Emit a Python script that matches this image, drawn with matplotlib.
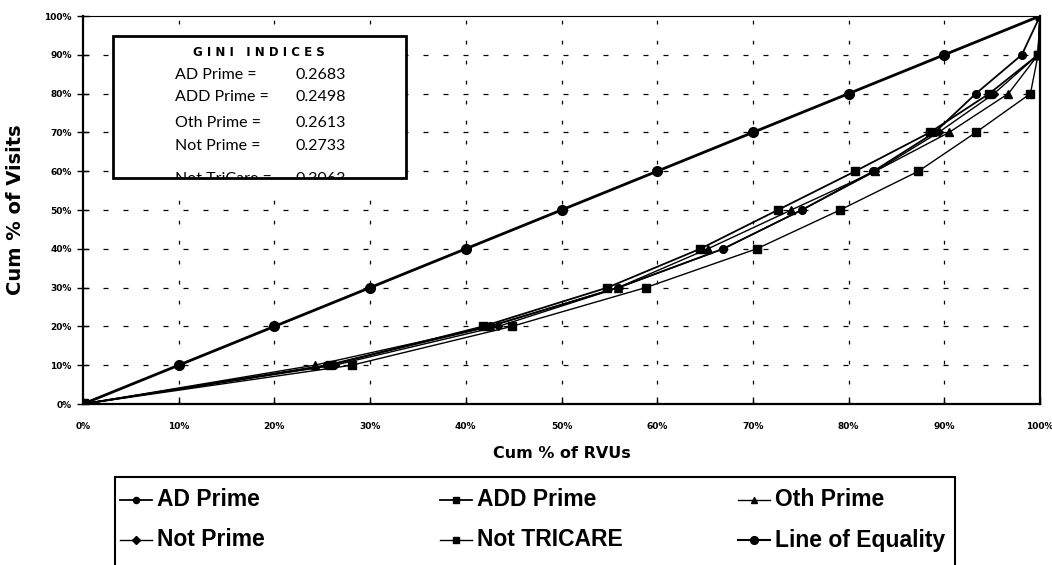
import numpy as np
import matplotlib
matplotlib.use("Agg")
import matplotlib.pyplot as plt
from matplotlib.patches import Rectangle
from matplotlib.lines import Line2D

# cumulative % of visits (y) at which each series has a marker
visits = [0, 10, 20, 30, 40, 50, 60, 70, 80, 90, 100]

# cumulative % of RVUs (x), one list per series
ad_prime     = [0, 25.5, 42.5, 55.9, 66.9, 75.1, 82.6, 89.0, 93.3, 98.1, 100]
add_prime    = [0, 25.8, 41.8, 54.8, 64.5, 72.6, 80.7, 88.5, 94.7, 99.8, 100]
oth_prime    = [0, 24.2, 42.5, 55.9, 65.3, 74.0, 82.8, 90.5, 96.7, 99.8, 100]
not_prime    = [0, 26.3, 43.4, 56.0, 66.9, 75.1, 82.8, 89.4, 95.2, 99.8, 100]
not_tricare  = [0, 28.1, 44.8, 58.8, 70.4, 79.1, 87.3, 93.3, 99.0, 99.8, 100]
equality     = [0, 10, 20, 30, 40, 50, 60, 70, 80, 90, 100]

gini_names  = ["AD Prime =", "ADD Prime =", "Oth Prime =", "Not Prime =", "Not TriCare ="]
gini_values = ["0.2683", "0.2498", "0.2613", "0.2733", "0.3063"]

W, H = 1052, 565
fig = plt.figure(figsize=(W / 100, H / 100), dpi=100)


def fx(px):
    return px / W


def fy(py):
    return 1 - py / H


ax = fig.add_axes([fx(83), fy(404), (1040 - 83) / W, (404 - 16) / H])

styles = {
    "AD Prime": ("o", 5.5, 1.3),
    "ADD Prime": ("s", 6, 1.3),
    "Oth Prime": ("^", 6, 1.0),
    "Not Prime": ("D", 4.5, 1.0),
    "Not TRICARE": ("s", 6, 1.0),
    "Line of Equality": ("o", 7, 2.0),
}
data = {
    "AD Prime": ad_prime,
    "ADD Prime": add_prime,
    "Oth Prime": oth_prime,
    "Not Prime": not_prime,
    "Not TRICARE": not_tricare,
    "Line of Equality": equality,
}
for name, xs in data.items():
    mk, ms, lw = styles[name]
    ax.plot(xs, visits, color="black", lw=lw, marker=mk, ms=ms,
            markevery=list(range(1, len(xs))), zorder=3)
ax.plot([0], [0], marker="s", color="black", ms=7, zorder=4)

ax.set_xlim(0, 100)
ax.set_ylim(0, 100)
ticks = np.arange(0, 101, 10)
ax.set_xticks(ticks)
ax.set_yticks(ticks)
ax.set_xticklabels([f"{t}%" for t in ticks], fontsize=6.5, fontweight="bold")
ax.set_yticklabels([f"{t}%" for t in ticks], fontsize=6.5, fontweight="bold")
ax.tick_params(axis="y", direction="inout", length=8, width=1, pad=4)
ax.tick_params(axis="x", direction="in", length=5, width=1, pad=13)

for t in ticks[1:-1]:
    ax.axhline(t, color="black", lw=0.9, ls=(0, (4, 12)), zorder=1)
    ax.axvline(t, color="black", lw=0.9, ls=(0, (3, 13)), zorder=1)

for side in ["left", "bottom", "right"]:
    ax.spines[side].set_linewidth(1.6)
ax.spines["top"].set_linewidth(0.8)

ax.set_xlabel("Cum % of RVUs", fontsize=11.5, fontweight="bold", labelpad=11)
ax.set_ylabel("Cum % of Visits", fontsize=14, fontweight="bold", labelpad=14)

# Gini box; the last row runs into the bottom edge, as in the scan
bw, bh = (406 - 113) / W, (178 - 36) / H
fig.patches.append(Rectangle((fx(113), fy(178)), bw, bh, transform=fig.transFigure,
                             facecolor="white", edgecolor="none", zorder=5))
fig.text(fx(259), fy(52), "G I N I   I N D I C E S", ha="center", va="center",
         fontsize=8.5, fontweight="bold", zorder=6)
rows_y = [75, 97, 123, 146, 179]
for yy, nm, val in zip(rows_y, gini_names, gini_values):
    fig.text(fx(175), fy(yy), nm, ha="left", va="center", fontsize=11.5,
             family="Lato", color="black", zorder=6)
    fig.text(fx(346), fy(yy), val, ha="right", va="center", fontsize=11.5,
             family="Lato", color="black", zorder=6)
# white strip under the box hides the cut-off part of the last row
fig.patches.append(Rectangle((fx(113), fy(194)), bw, 16 / H, transform=fig.transFigure,
                             facecolor="white", edgecolor="none", zorder=6.5))
fig.patches.append(Rectangle((fx(113), fy(178)), bw, bh, transform=fig.transFigure,
                             facecolor="none", edgecolor="black", lw=2, zorder=7))

# legend, drawn by hand so the columns sit where the reference has them
frame = Rectangle((fx(115), fy(585)), (955 - 115) / W, (585 - 477) / H, transform=fig.transFigure,
                  facecolor="white", edgecolor="black", lw=1.5, zorder=5, clip_on=False)
fig.patches.append(frame)
layout = [
    ("AD Prime", 120, 500), ("ADD Prime", 440, 500), ("Oth Prime", 738, 500),
    ("Not Prime", 120, 540), ("Not TRICARE", 440, 540), ("Line of Equality", 738, 540),
]
for name, x0, yy in layout:
    mk, ms, lw = styles[name]
    fig.lines.append(Line2D([fx(x0), fx(x0 + 32)], [fy(yy), fy(yy)], transform=fig.transFigure,
                            color="black", lw=min(lw, 1.5), zorder=6))
    fig.lines.append(Line2D([fx(x0 + 16)], [fy(yy)], transform=fig.transFigure, color="black",
                            marker=mk, ms=ms * 0.8, zorder=7))
    fig.text(fx(x0 + 37), fy(yy), name, ha="left", va="center", fontsize=16.5,
             family="Liberation Sans", fontweight="bold", zorder=7)

fig.savefig("out.png", dpi=100)
